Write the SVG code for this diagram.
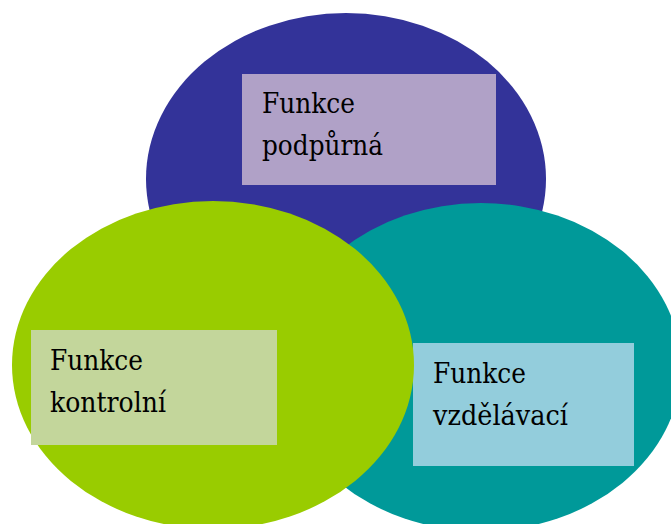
<svg xmlns="http://www.w3.org/2000/svg" width="671" height="524" viewBox="0 0 671 524">
<style>
text{font-family:'DejaVu Serif',serif;font-size:27px;fill:#000000}
</style>
<rect width="671" height="524" fill="#ffffff"/>
<g id="node-podpurna">
<ellipse cx="346" cy="179" rx="200" ry="166" fill="#333399"/>
<rect x="242" y="74" width="254" height="111" fill="#B0A1C7"/>
<text x="262" y="113" textLength="93" lengthAdjust="spacingAndGlyphs">Funkce</text>
<text x="262" y="155" textLength="121" lengthAdjust="spacingAndGlyphs">podpůrná</text>
</g>
<g id="node-vzdelavaci">
<ellipse cx="481" cy="367" rx="200" ry="164" fill="#009999"/>
<rect x="413" y="343" width="221" height="123" fill="#93CDDC"/>
<text x="433" y="383" textLength="93" lengthAdjust="spacingAndGlyphs">Funkce</text>
<text x="433" y="425" textLength="135" lengthAdjust="spacingAndGlyphs">vzdělávací</text>
</g>
<g id="node-kontrolni">
<ellipse cx="213" cy="365" rx="201" ry="164" fill="#99CC00"/>
<rect x="31" y="330" width="246" height="115" fill="#C3D69B"/>
<text x="50" y="370" textLength="93" lengthAdjust="spacingAndGlyphs">Funkce</text>
<text x="50" y="412" textLength="116" lengthAdjust="spacingAndGlyphs">kontrolní</text>
</g>
<g id="connectors"></g>
</svg>
